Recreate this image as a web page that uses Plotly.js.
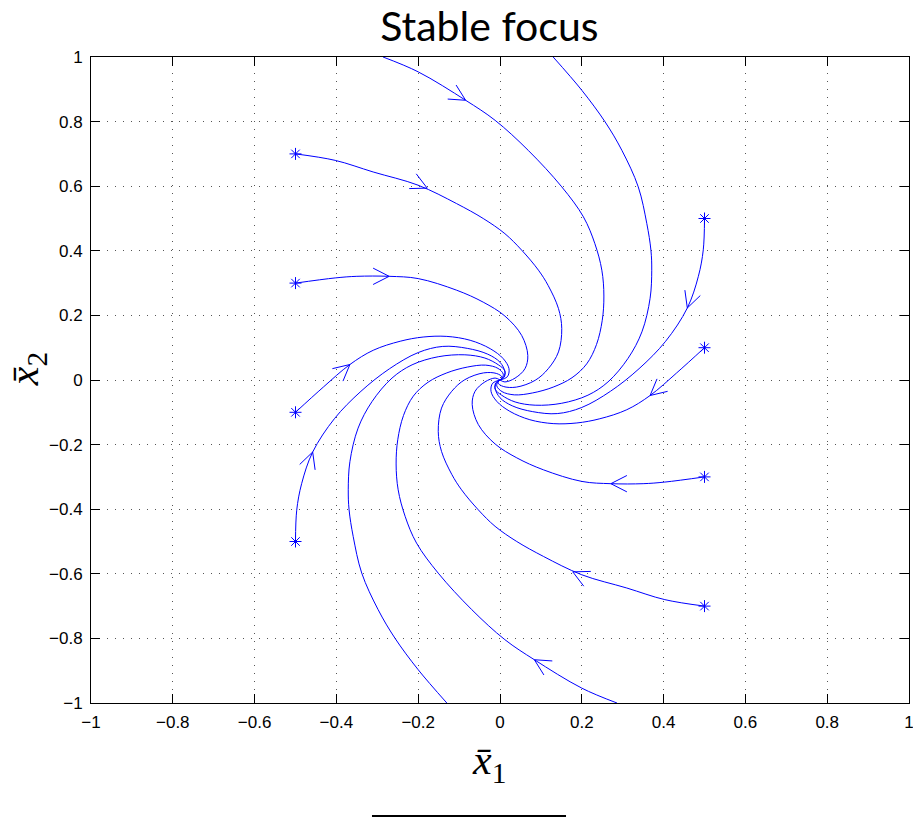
<!DOCTYPE html>
<html><head><meta charset="utf-8">
<script src="https://cdn.plot.ly/plotly-3.0.1.min.js"></script>
<style>html,body{margin:0;padding:0;background:#fff}</style>
</head><body><div id="chart" style="width:913px;height:818px"></div>
<script>
// ---- data ----
const tickValues = [-1, -0.8, -0.6, -0.4, -0.2, 0, 0.2, 0.4, 0.6, 0.8, 1];

const startX = [-0.5, -0.5, -0.5, -0.5, 0.5, 0.5, 0.5, 0.5];
const startY = [0.7, 0.3, -0.1, -0.5, 0.5, 0.1, -0.3, -0.7];

const A_x = [-0.5, -0.403, -0.310, -0.200, -0.106, -0.041, 0.012, 0.053, 0.094, 0.118, 0.143, 0.151, 0.143, 0.118, 0.086, 0.040, 0.008, -0.005, 0];
const A_y = [0.700, 0.680, 0.644, 0.603, 0.546, 0.500, 0.453, 0.402, 0.340, 0.292, 0.221, 0.159, 0.087, 0.035, -0.001, -0.022, -0.020, -0.009, 0];
const H_x = [0.5, 0.403, 0.310, 0.200, 0.106, 0.041, -0.012, -0.053, -0.094, -0.118, -0.143, -0.151, -0.143, -0.118, -0.086, -0.040, -0.008, 0.005, 0];
const H_y = [-0.700, -0.680, -0.644, -0.603, -0.546, -0.500, -0.453, -0.402, -0.340, -0.292, -0.221, -0.159, -0.087, -0.035, 0.001, 0.022, 0.020, 0.009, 0];

const B_x = [-0.5, -0.403, -0.350, -0.271, -0.200, -0.106, -0.041, 0.012, 0.053, 0.068, 0.061, 0.037, 0.012, 0];
const B_y = [0.300, 0.316, 0.321, 0.321, 0.314, 0.278, 0.241, 0.198, 0.138, 0.076, 0.035, 0.006, -0.006, 0];
const G_x = [0.5, 0.403, 0.350, 0.271, 0.200, 0.106, 0.041, -0.012, -0.053, -0.068, -0.061, -0.037, -0.012, 0];
const G_y = [-0.300, -0.316, -0.321, -0.321, -0.314, -0.278, -0.241, -0.198, -0.138, -0.076, -0.035, -0.006, 0.006, 0];

const C_x = [-0.5, -0.432, -0.367, -0.310, -0.244, -0.188, -0.130, -0.073, -0.024, 0.008, 0.022, 0.018, 0];
const C_y = [-0.100, -0.022, 0.048, 0.092, 0.120, 0.133, 0.135, 0.123, 0.097, 0.066, 0.035, 0.010, 0];
const F_x = [0.5, 0.432, 0.367, 0.310, 0.244, 0.188, 0.130, 0.073, 0.024, -0.008, -0.022, -0.018, 0];
const F_y = [0.100, 0.022, -0.048, -0.092, -0.120, -0.133, -0.135, -0.123, -0.097, -0.066, -0.035, -0.010, 0];

const D_x = [-0.5, -0.497, -0.485, -0.458, -0.405, -0.340, -0.270, -0.200, -0.140, -0.080, -0.030, 0.000, 0.012, 0.008, 0];
const D_y = [-0.500, -0.403, -0.321, -0.223, -0.120, -0.035, 0.035, 0.085, 0.104, 0.098, 0.080, 0.055, 0.025, 0.008, 0];
const E_x = [0.5, 0.497, 0.485, 0.458, 0.405, 0.340, 0.270, 0.200, 0.140, 0.080, 0.030, 0.000, -0.012, -0.008, 0];
const E_y = [0.500, 0.403, 0.321, 0.223, 0.120, 0.035, -0.035, -0.085, -0.104, -0.098, -0.080, -0.055, -0.025, -0.008, 0];

const I_x = [-0.286, -0.200, -0.084, -0.012, 0.069, 0.151, 0.204, 0.232, 0.249, 0.254, 0.250, 0.236, 0.212, 0.176, 0.130, 0.080, 0.035, 0.005, -0.008, -0.004, 0];
const I_y = [1.000, 0.954, 0.866, 0.804, 0.711, 0.598, 0.505, 0.422, 0.340, 0.260, 0.185, 0.110, 0.050, 0.007, -0.022, -0.040, -0.046, -0.036, -0.018, -0.004, 0];
const J_x = [0.286, 0.200, 0.084, 0.012, -0.069, -0.151, -0.204, -0.232, -0.249, -0.254, -0.250, -0.236, -0.212, -0.176, -0.130, -0.080, -0.035, -0.005, 0.008, 0.004, 0];
const J_y = [-1.000, -0.954, -0.866, -0.804, -0.711, -0.598, -0.505, -0.422, -0.340, -0.260, -0.185, -0.110, -0.050, -0.007, 0.022, 0.040, 0.046, 0.036, 0.018, 0.004, 0];

const K_x = [0.130, 0.200, 0.257, 0.298, 0.338, 0.359, 0.369, 0.371, 0.367, 0.347, 0.313, 0.264, 0.215, 0.151, 0.086, 0.037, 0.004, -0.012, -0.010, 0];
const K_y = [1.000, 0.897, 0.799, 0.711, 0.598, 0.484, 0.402, 0.340, 0.253, 0.149, 0.067, -0.006, -0.047, -0.072, -0.078, -0.068, -0.047, -0.028, -0.008, 0];
const L_x = [-0.130, -0.200, -0.257, -0.298, -0.338, -0.359, -0.369, -0.371, -0.367, -0.347, -0.313, -0.264, -0.215, -0.151, -0.086, -0.037, -0.004, 0.012, 0.010, 0];
const L_y = [-1.000, -0.897, -0.799, -0.711, -0.598, -0.484, -0.402, -0.340, -0.253, -0.149, -0.067, 0.006, 0.047, 0.072, 0.078, 0.068, 0.047, 0.028, 0.008, 0];

// arrow tips (on the curves) and the curve each one belongs to
const arrowX = [-0.178, 0.178, -0.271, 0.271, -0.367, 0.367, -0.458, 0.458, -0.084, 0.084];
const arrowY = [0.594, -0.594, 0.321, -0.321, 0.048, -0.048, -0.223, 0.223, 0.866, -0.866];
const arrowCurve = ['A', 'H', 'B', 'G', 'C', 'F', 'D', 'E', 'I', 'J'];

// ---- layout geometry ----
const W = 913, H = 818;
const M = {l: 91, r: 4, t: 57, b: 115};
const xRange = [-1, 1], yRange = [-1, 1];
const sx = (W - M.l - M.r) / (xRange[1] - xRange[0]);
const sy = (H - M.t - M.b) / (yRange[1] - yRange[0]);
const BLUE = '#0000ff';

const curves = {A: [A_x, A_y], B: [B_x, B_y], C: [C_x, C_y], D: [D_x, D_y],
                E: [E_x, E_y], F: [F_x, F_y], G: [G_x, G_y], H: [H_x, H_y],
                I: [I_x, I_y], J: [J_x, J_y], K: [K_x, K_y], L: [L_x, L_y]};

const traces = [];
for (const k in curves) {
  traces.push({x: curves[k][0], y: curves[k][1], type: 'scatter', mode: 'lines',
    line: {color: BLUE, width: 1, shape: 'spline', smoothing: 1},
    hoverinfo: 'skip', showlegend: false});
}

// arrowheads: open V, oriented along the local direction of the curve
const legLen = 18, half = 27 * Math.PI / 180;
const vx = [], vy = [];
arrowX.forEach((tx, i) => {
  const ty = arrowY[i];
  const [cx, cy] = curves[arrowCurve[i]];
  let best = 0, bd = Infinity;
  for (let j = 0; j < cx.length - 1; j++) {
    const ax = cx[j] * sx, ay = cy[j] * sy, bx = cx[j + 1] * sx, by = cy[j + 1] * sy;
    const px = tx * sx, py = ty * sy;
    const dx = bx - ax, dy = by - ay;
    let t = ((px - ax) * dx + (py - ay) * dy) / (dx * dx + dy * dy);
    t = Math.max(0, Math.min(1, t));
    const qx = ax + t * dx - px, qy = ay + t * dy - py;
    const d = qx * qx + qy * qy;
    if (d < bd) { bd = d; best = j; }
  }
  let dx = (cx[best + 1] - cx[best]) * sx, dy = -(cy[best + 1] - cy[best]) * sy;
  const n = Math.hypot(dx, dy); dx /= n; dy /= n;
  const bx = -dx, by = -dy;
  const pts = [];
  [1, -1].forEach(s => {
    const c = Math.cos(s * half), sn = Math.sin(s * half);
    const rx = bx * c - by * sn, ry = bx * sn + by * c;
    pts.push([tx + rx * legLen / sx, ty - ry * legLen / sy]);
  });
  vx.push(pts[0][0], tx, pts[1][0], null);
  vy.push(pts[0][1], ty, pts[1][1], null);
});
traces.push({x: vx, y: vy, type: 'scatter', mode: 'lines',
  line: {color: BLUE, width: 1}, hoverinfo: 'skip', showlegend: false});

traces.push({x: startX, y: startY, type: 'scatter', mode: 'markers',
  marker: {symbol: 'asterisk-open', size: 10, color: BLUE, line: {color: BLUE, width: 1}},
  hoverinfo: 'skip', showlegend: false});

const axisCommon = {
  range: xRange, tickmode: 'array', tickvals: tickValues,
  ticks: 'inside', ticklen: 9, tickwidth: 1, tickcolor: '#000',
  mirror: 'ticks', showline: true, linecolor: '#000', linewidth: 1,
  showgrid: true, gridcolor: '#555', gridwidth: 1, griddash: '1px,7px',
  zeroline: false, fixedrange: true, ticklabeloverflow: 'allow',
  tickfont: {family: 'Liberation Sans, Arial, sans-serif', size: 17, color: '#000'}
};

const layout = {
  width: W, height: H, margin: M,
  paper_bgcolor: '#fff', plot_bgcolor: '#fff',
  title: {text: 'Stable focus', font: {family: 'Lato, sans-serif', size: 41, color: '#000'},
          xref: 'paper', x: 0.487, xanchor: 'center', yref: 'container', y: 0.967, yanchor: 'middle'},
  xaxis: Object.assign({}, axisCommon, {range: xRange, ticklabelstandoff: 4}),
  yaxis: Object.assign({}, axisCommon, {range: yRange, ticklabelstandoff: 4}),
  annotations: [
    {text: '<i>x\u0304</i><sub>1</sub>', xref: 'paper', yref: 'paper', x: 0.4866, y: -0.093,
     xanchor: 'center', yanchor: 'middle', showarrow: false,
     font: {family: 'Liberation Serif, serif', size: 42, color: '#000'}},
    {text: '<i>x\u0304</i><sub>2</sub>', xref: 'paper', yref: 'paper', x: -0.078, y: 0.517,
     xanchor: 'center', yanchor: 'middle', showarrow: false, textangle: -90,
     font: {family: 'Liberation Serif, serif', size: 42, color: '#000'}}
  ],
  shapes: [
    {type: 'line', xref: 'paper', yref: 'paper', x0: 0.3435, x1: 0.5807, y0: -0.175, y1: -0.175,
     line: {color: '#000', width: 2}}
  ],
  showlegend: false
};

Plotly.newPlot('chart', traces, layout, {staticPlot: true, displayModeBar: false});
</script>
</body></html>
